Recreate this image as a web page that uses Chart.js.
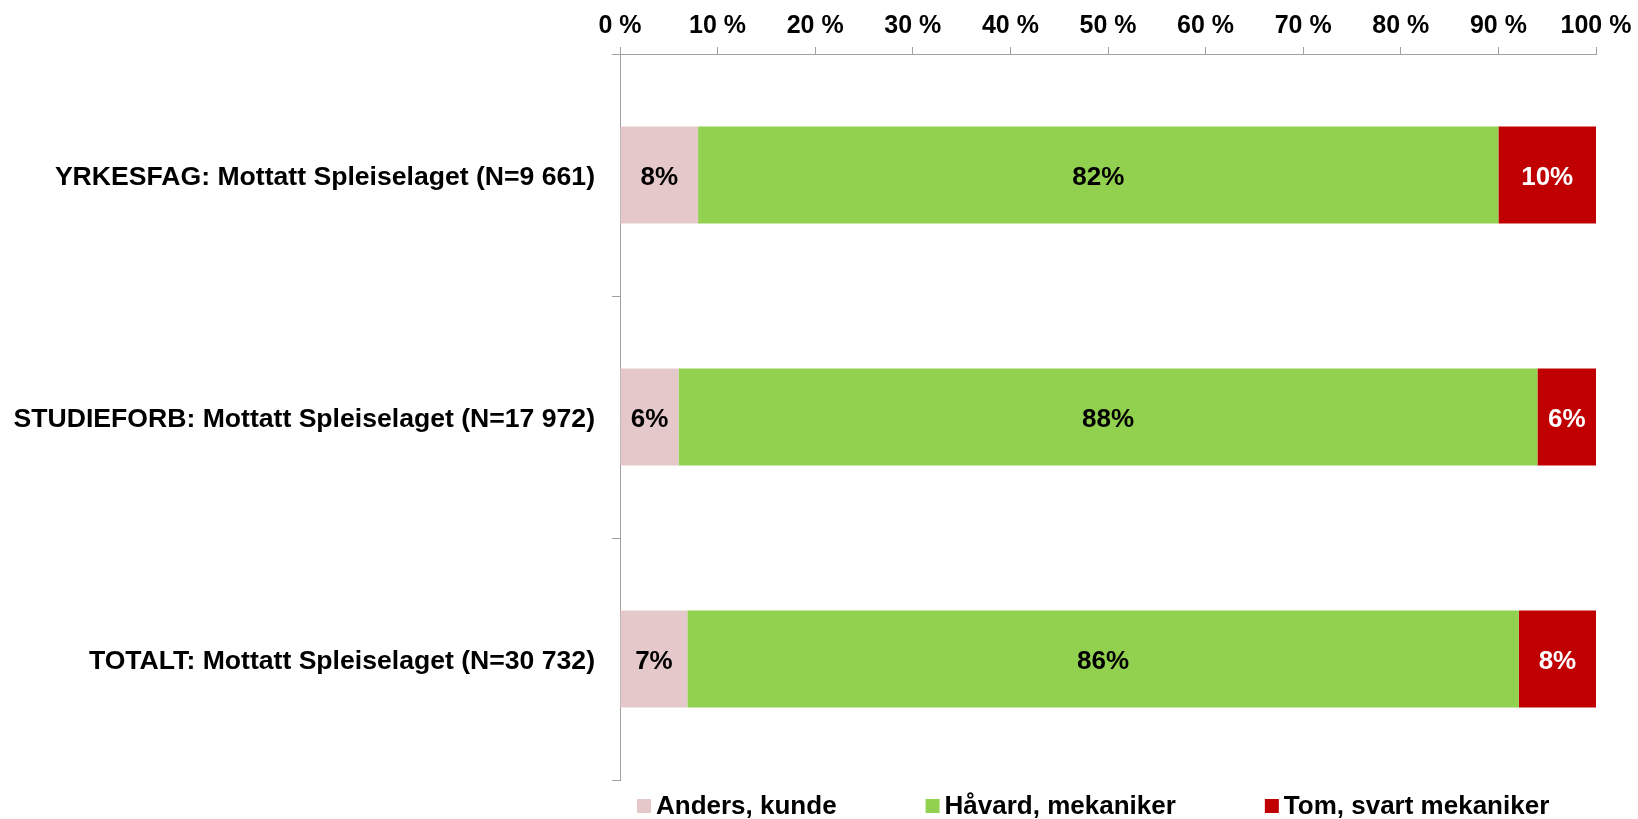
<!DOCTYPE html>
<html>
<head>
<meta charset="utf-8">
<script src="https://cdn.jsdelivr.net/npm/chart.js@4"></script>
<style>
  html, body { margin: 0; padding: 0; background: #fff; }
  #wrap { width: 1638px; height: 819px; }
</style>
</head>
<body>
<div id="wrap"><canvas id="chart" width="1638" height="819"></canvas></div>
<script>
var categories = [
  'YRKESFAG: Mottatt Spleiselaget (N=9 661)',
  'STUDIEFORB: Mottatt Spleiselaget (N=17 972)',
  'TOTALT: Mottatt Spleiselaget (N=30 732)'
];
var seriesNames = ['Anders, kunde', 'Håvard, mekaniker', 'Tom, svart mekaniker'];
var anders = [8, 6, 6.9];
var havard = [82, 88, 85.2];
var tom = [10, 6, 7.9];
var andersLabels = ['8%', '6%', '7%'];
var havardLabels = ['82%', '88%', '86%'];
var tomLabels = ['10%', '6%', '8%'];
var xTicks = [0, 10, 20, 30, 40, 50, 60, 70, 80, 90, 100];

var FONT = '"Liberation Sans", Arial, sans-serif';
var axisGrey = '#a0a0a0';

// value labels inside the bars
var barLabels = {
  id: 'barLabels',
  afterDatasetsDraw: function(chart) {
    var ctx = chart.ctx;
    ctx.save();
    ctx.font = 'bold 26px ' + FONT;
    ctx.textAlign = 'center';
    ctx.textBaseline = 'middle';
    chart.data.datasets.forEach(function(ds, i) {
      var meta = chart.getDatasetMeta(i);
      meta.data.forEach(function(bar, j) {
        var c = bar.getCenterPoint();
        ctx.fillStyle = ds.labelColor;
        ctx.fillText(ds.labels[j], c.x, c.y + 3);
      });
    });
    ctx.restore();
  }
};

// legend at the bottom, Excel style
var bottomLegend = {
  id: 'bottomLegend',
  afterDraw: function(chart) {
    var ctx = chart.ctx;
    var x = 637, y = 806;
    ctx.save();
    ctx.font = 'bold 26px ' + FONT;
    ctx.textAlign = 'left';
    ctx.textBaseline = 'middle';
    chart.data.datasets.forEach(function(ds) {
      ctx.fillStyle = ds.backgroundColor;
      ctx.fillRect(x, y - 7, 14, 14);
      ctx.fillStyle = '#000';
      ctx.fillText(ds.label, x + 19, y + 1);
      x = x + 19 + ctx.measureText(ds.label).width + 89;
    });
    ctx.restore();
  }
};

new Chart('chart', {
  type: 'bar',
  data: {
    labels: categories,
    datasets: [
      { label: seriesNames[0], data: anders, labels: andersLabels, labelColor: '#000', backgroundColor: '#E5C8C9' },
      { label: seriesNames[1], data: havard, labels: havardLabels, labelColor: '#000', backgroundColor: '#92D050' },
      { label: seriesNames[2], data: tom, labels: tomLabels, labelColor: '#fff', backgroundColor: '#C00000' }
    ]
  },
  options: {
    indexAxis: 'y',
    responsive: false,
    animation: false,
    layout: { padding: { top: 0, right: 42, bottom: 39, left: 0 } },
    datasets: { bar: { categoryPercentage: 1, barPercentage: 0.4 } },
    plugins: {
      legend: { display: false },
      tooltip: { enabled: false }
    },
    scales: {
      x: {
        position: 'top',
        stacked: true,
        min: 0,
        max: 100,
        afterBuildTicks: function(scale) {
          scale.ticks = xTicks.map(function(v) { return { value: v }; });
        },
        afterFit: function(scale) { scale.height = 54; },
        grid: { drawOnChartArea: false, tickLength: 7, color: axisGrey, lineWidth: 1 },
        border: { color: axisGrey, width: 1 },
        ticks: {
          padding: 6,
          color: '#000',
          font: { family: FONT, size: 25, weight: 'bold' },
          maxRotation: 0,
          callback: function(v) { return v + ' %'; }
        }
      },
      y: {
        stacked: true,
        afterFit: function(scale) { scale.width = 620; },
        grid: { drawOnChartArea: false, offset: true, tickLength: 8, color: axisGrey, lineWidth: 1 },
        border: { color: axisGrey, width: 1 },
        ticks: {
          padding: 17,
          labelOffset: 3,
          color: '#000',
          font: { family: FONT, size: 26.6, weight: 'bold' }
        }
      }
    }
  },
  plugins: [barLabels, bottomLegend]
});
</script>
</body>
</html>
